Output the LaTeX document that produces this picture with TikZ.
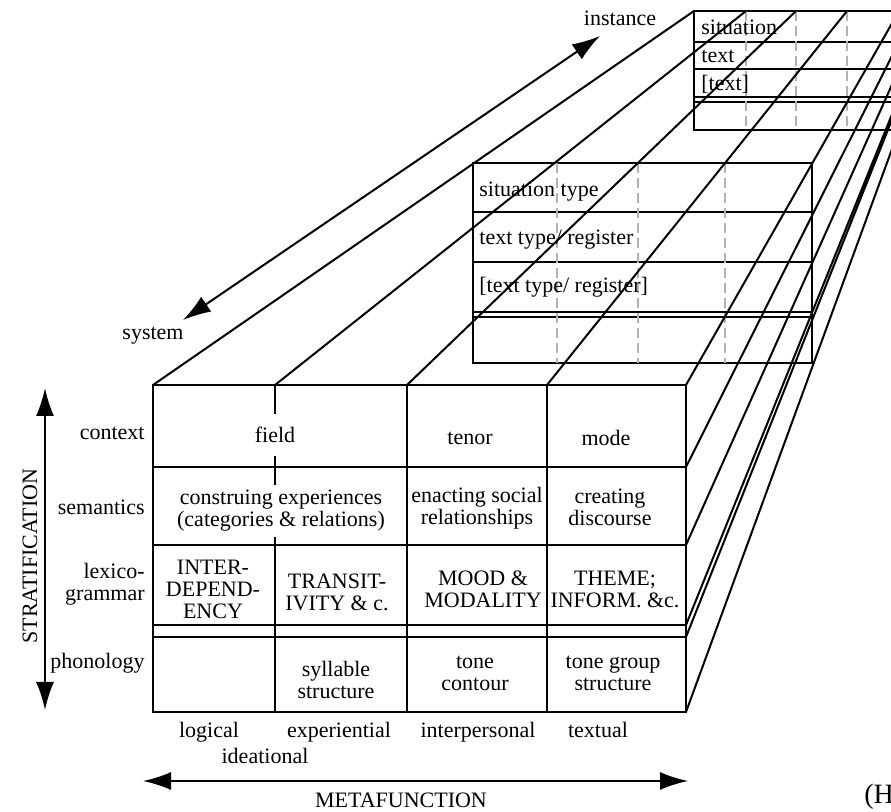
\documentclass[tikz,border=0pt]{standalone}
\usepackage{fontspec}
\setmainfont{Liberation Serif}
\usepackage{tikz}
\usetikzlibrary{arrows.meta}

\begin{document}
\begin{tikzpicture}[x=0.5pt,y=-0.5pt,
        every node/.style={font=\fontsize{11}{11}\selectfont, inner sep=1pt},
        frame/.style={line width=1pt},
        guide/.style={gray!60, line width=0.75pt, dash pattern=on 5pt off 2.5pt},
        cell/.style={align=center},
        tag/.style={anchor=west},
        both/.style={line width=1pt, {Latex[length=14pt,width=9pt]}-{Latex[length=14pt,width=9pt]}}]
        \useasboundingbox (0,0) rectangle (891,812);
        \clip (0,0) rectangle (891,812);

        % Drawing the back frame (instance)
        \draw[frame] (694,11) rectangle (899,130);
        \draw[frame] (694,42) -- (899,42) (694,69) -- (899,69) (694,97) -- (899,97) (694,102) -- (899,102);
        \draw[guide] (746,11) -- (746,130) (796,11) -- (796,130) (847,11) -- (847,130);
        \node[tag] (sit) at (699,27) {situation};
        \node[tag] (txt) at (699,56) {text};
        \node[tag] (txtB) at (699,84) {[text]};

        % Drawing the middle frame (type)
        \draw[frame] (473,163) rectangle (812,363);
        \draw[frame] (473,212) -- (812,212) (473,262) -- (812,262) (473,312) -- (812,312) (473,317) -- (812,317);
        \draw[guide] (557,163) -- (557,363) (638,163) -- (638,363) (725,163) -- (725,363);
        \node[tag] (sitType) at (477,192) {situation type};
        \node[tag] (txtType) at (477,240) {text type/ register};
        \node[tag] (txtTypeB) at (477,287) {[text type/ register]};

        % Drawing the lines from the front box to the back frame
        \draw[frame] (153,385) -- (694,11) (275,385) -- (746,11) (407,385) -- (796,11) (547,385) -- (847,11) (686,385) -- (899,11);
        \draw[frame] (686,467) -- (899,42) (686,545) -- (899,69) (686,625) -- (899,97) (686,637) -- (899,102) (686,712) -- (899,130);

        % Drawing the front box (system)
        \draw[frame] (153,385) rectangle (686,712);
        \draw[frame] (153,467) -- (686,467) (153,545) -- (686,545) (153,625) -- (686,625) (153,637) -- (686,637);
        \draw[frame] (275,385) -- (275,712) (407,385) -- (407,712) (547,385) -- (547,712);

        % row labels
        \node[anchor=east] (ctx) at (147,433) {context};
        \node[anchor=east] (sem) at (147,507) {semantics};
        \node[anchor=east, align=right] (lexgr) at (147,584) {lexico-\\grammar};
        \node[anchor=east] (phon) at (147,663) {phonology};

        % cells
        \node[cell, fill=white, minimum height=21pt] (field) at (275,435) {field};
        \node[cell, fill=white, inner ysep=2.5pt] (constr) at (281,511) {construing experiences\\(categories \& relations)};
        \node[cell] (interdep) at (213,589) {INTER-\\DEPEND-\\ENCY};
        \node[cell] (transit) at (337,592) {TRANSIT-\\IVITY \& c.};
        \node[cell] (syll) at (336,680) {syllable\\structure};
        \node[cell] (tenor) at (470,438) {tenor};
        \node[cell] (enact) at (477,508) {enacting social\\relationships};
        \node[cell] (mood) at (483,589) {MOOD \&\\MODALITY};
        \node[cell] (tone) at (475,673) {tone\\contour};
        \node[cell] (mode) at (606,438) {mode};
        \node[cell] (creat) at (610,507) {creating\\discourse};
        \node[cell] (theme) at (615,589) {THEME;\\INFORM. \&c.};
        \node[cell] (tonegrp) at (613,673) {tone group\\structure};

        % metafunction labels
        \node[anchor=base] (logical) at (209,738) {logical};
        \node[anchor=base] (exper) at (339,738) {experiential};
        \node[anchor=base] (interp) at (478,738) {interpersonal};
        \node[anchor=base] (textual) at (598,738) {textual};
        \node[anchor=base] (ideat) at (265,764) {ideational};

        % Drawing the axes
        \coordinate (sysEnd) at (183,320);
        \coordinate (instEnd) at (600,36);
        \draw[both] (sysEnd) -- (instEnd);
        \node (system) at (153,336) {system};
        \node (instance) at (620,18) {instance};

        \coordinate (stTop) at (45,388);
        \coordinate (stBot) at (45,710);
        \draw[both] (stTop) -- (stBot);
        \node[rotate=90] (strat) at (30,556) {STRATIFICATION};

        \coordinate (mfLeft) at (143,781);
        \coordinate (mfRight) at (688,781);
        \draw[both] (mfLeft) -- (mfRight);
        \node (metaf) at (401,800) {METAFUNCTION};

        \node[anchor=west, font=\fontsize{14}{14}\selectfont] (cite) at (862,797) {(H};
\end{tikzpicture}
\end{document}
